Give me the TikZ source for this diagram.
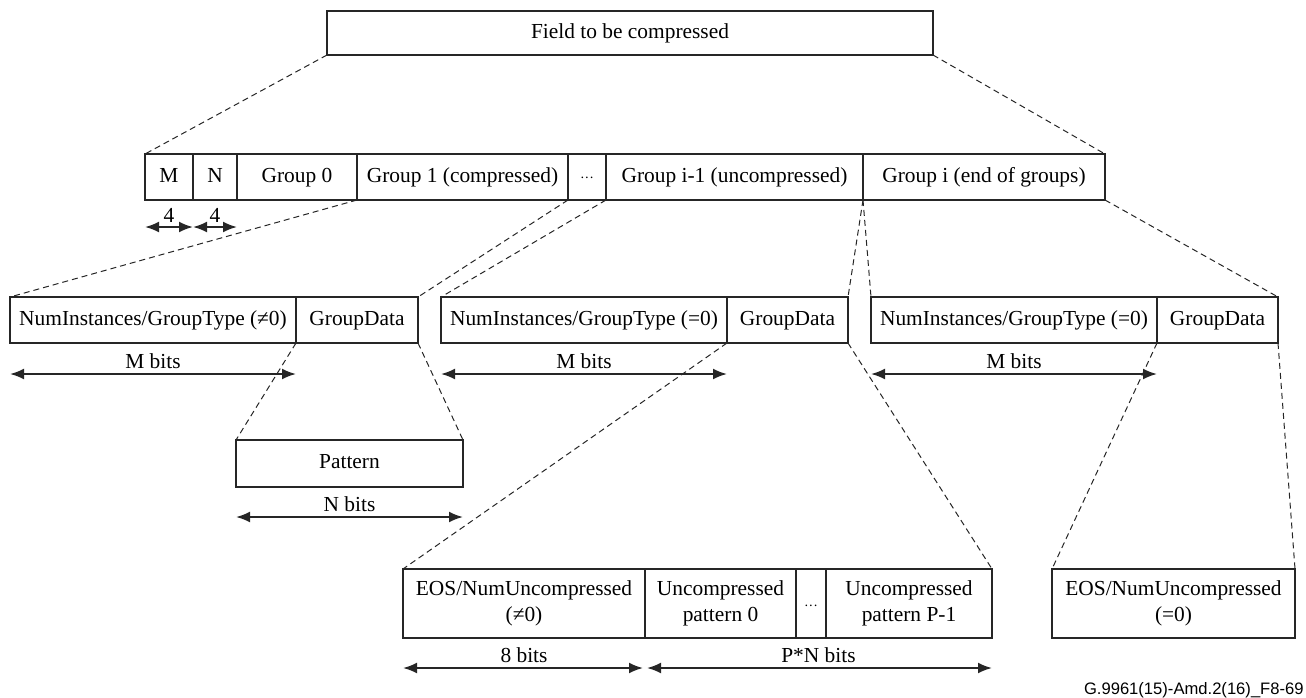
\documentclass[tikz,border=0pt]{standalone}
\usepackage{fontspec}
\setmainfont{Liberation Serif}
\newfontfamily\tagfont{Liberation Sans}
\usetikzlibrary{
  positioning,
  arrows.meta
}

\begin{document}
\begin{tikzpicture}[
  x=0.5pt, y=-0.5pt,
  font=\fontsize{10.7}{13}\selectfont,
  cell/.style={
    rectangle,
    draw=black!85,
    line width=0.7pt,
    inner sep=1pt,
    outer sep=0pt,
    minimum height=23pt,
    text height=1.55ex,
    text depth=0.45ex,
    align=center
  },
  tallcell/.style={
    cell,
    text height=,
    text depth=,
    minimum height=34.5pt
  },
  dotcell/.style={
    font=\fontsize{7}{8}\selectfont,
    text height=1.6ex
  },
  zoomline/.style={
    draw=black!85,
    line width=0.5pt,
    dash pattern=on 3pt off 2pt
  },
  dim/.style={
    {Latex[length=7pt, width=5.5pt]}-{Latex[length=7pt, width=5.5pt]},
    line width=1pt,
    draw=black!85
  },
  dimlabel/.style={above, inner sep=2pt}
]
\useasboundingbox (0,0) rectangle (1306,697);

% Row 1: the field (y = 11..55)
\node[cell, minimum width=303pt, minimum height=22pt] (field) at (630,33) {Field to be compressed};

% Row 2: header and groups (y = 154..200)
\node[cell, minimum width=24pt, anchor=north west] (m) at (145,154) {M};
\node[cell, minimum width=22pt, right=0pt of m] (n) {N};
\node[cell, minimum width=60pt, right=0pt of n] (g0) {Group 0};
\node[cell, minimum width=105.5pt, right=0pt of g0] (g1) {Group 1 (compressed)};
\node[cell, dotcell, minimum width=19pt, right=0pt of g1] (gdots) {···};
\node[cell, minimum width=128.5pt, right=0pt of gdots] (gim) {Group i-1 (uncompressed)};
\node[cell, minimum width=121pt, right=0pt of gim] (gi) {Group i (end of groups)};

% Row 3: group headers (y = 297..343)
\node[cell, minimum width=143pt, anchor=north west] (typeA) at (10,297) {NumInstances/GroupType (≠0)};
\node[cell, minimum width=61pt, right=0pt of typeA] (dataA) {GroupData};

\node[cell, minimum width=143pt, anchor=north west] (typeB) at (441,297) {NumInstances/GroupType (=0)};
\node[cell, minimum width=60.5pt, right=0pt of typeB] (dataB) {GroupData};

\node[cell, minimum width=143pt, anchor=north west] (typeC) at (871,297) {NumInstances/GroupType (=0)};
\node[cell, minimum width=60.5pt, right=0pt of typeC] (dataC) {GroupData};

% Row 4: compressed pattern (y = 440..487)
\node[cell, minimum width=113.5pt, minimum height=23.5pt, anchor=north west] (pat) at (236,440) {Pattern};

% Row 5: uncompressed patterns and end marker (y = 569..638)
\node[tallcell, minimum width=121pt, anchor=north west] (eos) at (403,569) {EOS/NumUncompressed\\(≠0)};
\node[tallcell, minimum width=75.5pt, right=0pt of eos] (unc0) {Uncompressed\\pattern 0};
\node[tallcell, dotcell, minimum width=15pt, right=0pt of unc0] (udots) {···};
\node[tallcell, minimum width=83pt, right=0pt of udots] (uncp) {Uncompressed\\pattern P-1};

\node[tallcell, minimum width=121.5pt, anchor=north west] (eosend) at (1052,569) {EOS/NumUncompressed\\(=0)};

% Zoom lines
\draw[zoomline] (field.south west) -- (m.north west);
\draw[zoomline] (field.south east) -- (gi.north east);
\draw[zoomline] (g0.south east) -- (typeA.north west);
\draw[zoomline] (g1.south east) -- (dataA.north east);
\draw[zoomline] (gdots.south east) -- (typeB.north west);
\draw[zoomline] (gim.south east) -- (dataB.north east);
\draw[zoomline] (gim.south east) -- (typeC.north west);
\draw[zoomline] (gi.south east) -- (dataC.north east);
\draw[zoomline] (typeA.south east) -- (pat.north west);
\draw[zoomline] (dataA.south east) -- (pat.north east);
\draw[zoomline] (typeB.south east) -- (eos.north west);
\draw[zoomline] (dataB.south east) -- (uncp.north east);
\draw[zoomline] (typeC.south east) -- (eosend.north west);
\draw[zoomline] (dataC.south east) -- (eosend.north east);

% Bit widths
\draw[dim] ([yshift=-13.5pt]m.south west) -- node[dimlabel]{4} ([yshift=-13.5pt]m.south east);
\draw[dim] ([yshift=-13.5pt]n.south west) -- node[dimlabel]{4} ([yshift=-13.5pt]n.south east);
\draw[dim] ([yshift=-15.5pt]typeA.south west) -- node[dimlabel]{M bits} ([yshift=-15.5pt]typeA.south east);
\draw[dim] ([yshift=-15.5pt]typeB.south west) -- node[dimlabel]{M bits} ([yshift=-15.5pt]typeB.south east);
\draw[dim] ([yshift=-15.5pt]typeC.south west) -- node[dimlabel]{M bits} ([yshift=-15.5pt]typeC.south east);
\draw[dim] ([yshift=-15pt]pat.south west) -- node[dimlabel]{N bits} ([yshift=-15pt]pat.south east);
\draw[dim, shorten >=1pt] ([yshift=-15pt]eos.south west) -- node[dimlabel]{8 bits} ([yshift=-15pt]eos.south east);
\draw[dim, shorten <=1pt] ([yshift=-15pt]unc0.south west) -- node[dimlabel]{P*N bits} ([yshift=-15pt]uncp.south east);

% Figure tag
\node[font=\tagfont\fontsize{8.3}{10}\selectfont, anchor=east, inner sep=0pt] (tag) at (1304,690) {G.9961(15)-Amd.2(16)\_F8-69};

\end{tikzpicture}
\end{document}
